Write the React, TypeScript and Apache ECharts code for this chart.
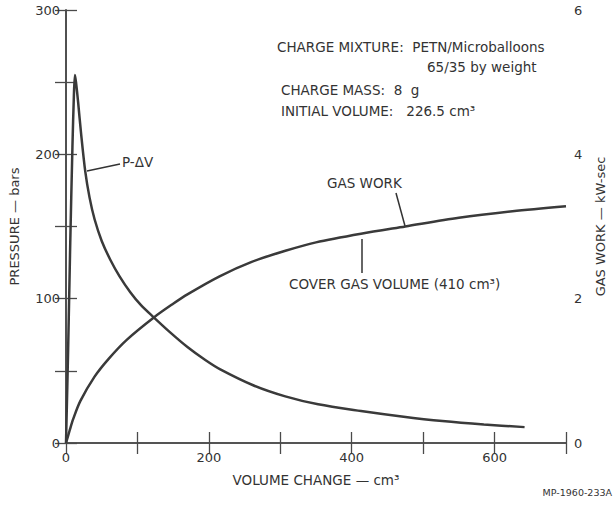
import React, { useEffect, useRef } from 'react';
import * as echarts from 'echarts';

// P-ΔV curve (volume change cm³, pressure bars)
const volumeP = [0, 3, 6, 9, 11, 12.5, 14, 17, 21, 27, 33, 40, 50, 62, 75, 90, 105, 123, 145, 170, 195, 216, 262, 307, 353, 413, 470, 527, 585, 642];
const pressure = [0, 65, 140, 205, 240, 255, 250, 236, 215, 188, 170, 155, 140, 127, 115.5, 104.5, 95.5, 87, 77, 66.5, 57.5, 51, 40, 32.3, 26.8, 22.2, 18.4, 15.2, 12.8, 11];

// Gas work curve (volume change cm³, kW-sec)
const volumeG = [0, 5, 10, 20, 40, 60, 85, 123, 150, 170, 215, 260, 306, 350, 413, 475, 550, 625, 700];
const gasWork = [0, 0.17, 0.33, 0.58, 0.92, 1.17, 1.43, 1.74, 1.93, 2.06, 2.31, 2.51, 2.66, 2.78, 2.9, 3.0, 3.12, 3.21, 3.28];

const xLabelEvery = 200;
const yLeftLabelEvery = 100;
const yRightLabelEvery = 2;

const FONT = '"DejaVu Sans", Verdana, sans-serif';
const INK = '#333';
const AXIS = '#4a4a4a';

export default function App() {
  const ref = useRef<HTMLDivElement>(null);

  useEffect(() => {
    const chart = echarts.init(ref.current!, null, { renderer: 'svg' });
    const axisLine = { show: true, lineStyle: { color: AXIS, width: 1.6 } };
    const tick = { show: true, inside: true, length: 11, lineStyle: { color: AXIS, width: 1.3 } };
    const lbl = { fontSize: 13, color: INK, fontFamily: FONT };
    const txt = (text: string, x: number, y: number, size = 13.5, align = 'left') => ({
      type: 'text',
      x,
      y,
      style: { text, fill: INK, fontSize: size, fontFamily: FONT, align, verticalAlign: 'middle' },
    });
    const seg = (x1: number, y1: number, x2: number, y2: number) => ({
      type: 'line',
      shape: { x1, y1, x2, y2 },
      style: { stroke: INK, lineWidth: 1.5 },
    });

    chart.setOption({
      animation: false,
      backgroundColor: '#fff',
      textStyle: { fontFamily: FONT },
      grid: { left: 60, right: 43, top: 10, bottom: 62 },
      xAxis: [
        {
          type: 'value', min: 0, max: 700, interval: 100, position: 'bottom',
          name: 'VOLUME CHANGE — cm³', nameLocation: 'middle', nameGap: 30,
          nameTextStyle: { fontSize: 13.5, color: INK, fontFamily: FONT },
          axisLine, axisTick: tick,
          axisLabel: { ...lbl, margin: 8, formatter: (v: number) => (v % xLabelEvery === 0 ? String(v) : '') },
          splitLine: { show: false },
        },
        {
          type: 'value', min: 0, max: 700, interval: 100, position: 'top',
          axisLine, axisTick: tick, axisLabel: { show: false }, splitLine: { show: false },
        },
      ],
      yAxis: [
        {
          type: 'value', min: 0, max: 300, interval: 50, position: 'left',
          name: 'PRESSURE — bars', nameLocation: 'middle', nameGap: 45, nameRotate: 90,
          nameTextStyle: { fontSize: 13, color: INK, fontFamily: FONT },
          axisLine, axisTick: tick,
          axisLabel: { ...lbl, margin: 6, formatter: (v: number) => (v % yLeftLabelEvery === 0 ? String(v) : '') },
          splitLine: { show: false },
        },
        {
          type: 'value', min: 0, max: 6, interval: 1, position: 'right',
          name: 'GAS WORK — kW-sec', nameLocation: 'middle', nameGap: 28, nameRotate: 90,
          nameTextStyle: { fontSize: 13, color: INK, fontFamily: FONT },
          axisLine, axisTick: tick,
          axisLabel: { ...lbl, margin: 8, formatter: (v: number) => (v % yRightLabelEvery === 0 ? String(v) : '') },
          splitLine: { show: false },
        },
      ],
      series: [
        {
          name: 'P-ΔV', type: 'line', xAxisIndex: 0, yAxisIndex: 0,
          data: volumeP.map((x, i) => [x, pressure[i]]),
          showSymbol: false, smooth: 0.3,
          lineStyle: { color: '#3a3a3a', width: 2.5 },
        },
        {
          name: 'GAS WORK', type: 'line', xAxisIndex: 0, yAxisIndex: 1,
          data: volumeG.map((x, i) => [x, gasWork[i]]),
          showSymbol: false, smooth: 0.3,
          lineStyle: { color: '#3a3a3a', width: 2.5 },
        },
      ],
      graphic: [
        txt('CHARGE MIXTURE:  PETN/Microballoons', 277, 47),
        txt('65/35 by weight', 427, 67),
        txt('CHARGE MASS:  8  g', 281, 90),
        txt('INITIAL VOLUME:   226.5 cm³', 281, 111),
        txt('P-ΔV', 122, 162),
        seg(87, 171, 120, 164),
        txt('GAS WORK', 327, 183),
        seg(396, 193, 405, 226),
        txt('COVER GAS VOLUME (410 cm³)', 289, 284),
        seg(362, 239, 362, 273),
        txt('MP-1960-233A', 612, 492, 9.5, 'right'),
      ],
    });
    return () => chart.dispose();
  }, []);

  return <div ref={ref} style={{ position: 'fixed', left: 0, top: 0, width: 615, height: 505 }} />;
}
